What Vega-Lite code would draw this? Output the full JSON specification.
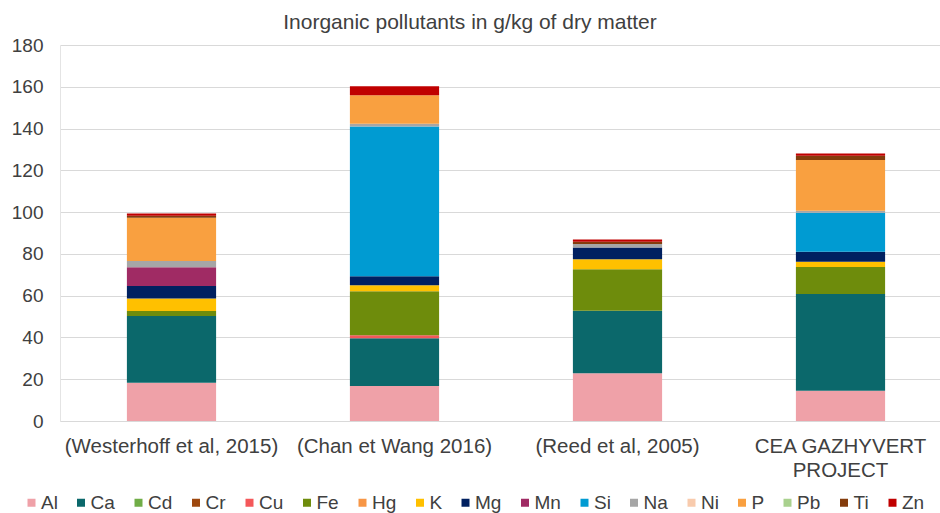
{
  "$schema": "https://vega.github.io/schema/vega-lite/v6.json",
  "width": 880,
  "height": 376,
  "autosize": {"type": "none"},
  "padding": {"left": 60, "top": 45, "right": 0, "bottom": 92},
  "background": "white",
  "config": {"font": "Liberation Sans", "view": {"stroke": null}},
  "title": {"text": "Inorganic pollutants in g/kg of dry matter", "fontSize": 21, "fontWeight": "normal", "color": "#404040", "anchor": "middle", "dx": -30, "offset": 3},
  "data": {"values": [
    {"ref": "(Westerhoff et al, 2015)", "el": "Al", "ord": 0, "v": 18.3},
    {"ref": "(Westerhoff et al, 2015)", "el": "Ca", "ord": 1, "v": 32},
    {"ref": "(Westerhoff et al, 2015)", "el": "Fe", "ord": 5, "v": 2.3},
    {"ref": "(Westerhoff et al, 2015)", "el": "K", "ord": 7, "v": 6},
    {"ref": "(Westerhoff et al, 2015)", "el": "Mg", "ord": 8, "v": 6},
    {"ref": "(Westerhoff et al, 2015)", "el": "Mn", "ord": 9, "v": 9},
    {"ref": "(Westerhoff et al, 2015)", "el": "Na", "ord": 11, "v": 3},
    {"ref": "(Westerhoff et al, 2015)", "el": "P", "ord": 13, "v": 20.7},
    {"ref": "(Westerhoff et al, 2015)", "el": "Ti", "ord": 15, "v": 1},
    {"ref": "(Westerhoff et al, 2015)", "el": "Zn", "ord": 16, "v": 1},
    {"ref": "(Chan et Wang 2016)", "el": "Al", "ord": 0, "v": 16.7},
    {"ref": "(Chan et Wang 2016)", "el": "Ca", "ord": 1, "v": 22.9},
    {"ref": "(Chan et Wang 2016)", "el": "Cu", "ord": 4, "v": 1.5},
    {"ref": "(Chan et Wang 2016)", "el": "Fe", "ord": 5, "v": 21},
    {"ref": "(Chan et Wang 2016)", "el": "K", "ord": 7, "v": 2.9},
    {"ref": "(Chan et Wang 2016)", "el": "Mg", "ord": 8, "v": 4.3},
    {"ref": "(Chan et Wang 2016)", "el": "Si", "ord": 10, "v": 71.7},
    {"ref": "(Chan et Wang 2016)", "el": "Na", "ord": 11, "v": 1.3},
    {"ref": "(Chan et Wang 2016)", "el": "P", "ord": 13, "v": 13.6},
    {"ref": "(Chan et Wang 2016)", "el": "Zn", "ord": 16, "v": 4.3},
    {"ref": "(Reed et al, 2005)", "el": "Al", "ord": 0, "v": 22.8},
    {"ref": "(Reed et al, 2005)", "el": "Ca", "ord": 1, "v": 30},
    {"ref": "(Reed et al, 2005)", "el": "Fe", "ord": 5, "v": 19.8},
    {"ref": "(Reed et al, 2005)", "el": "K", "ord": 7, "v": 4.8},
    {"ref": "(Reed et al, 2005)", "el": "Mg", "ord": 8, "v": 5.7},
    {"ref": "(Reed et al, 2005)", "el": "Na", "ord": 11, "v": 1.6},
    {"ref": "(Reed et al, 2005)", "el": "Ti", "ord": 15, "v": 1.1},
    {"ref": "(Reed et al, 2005)", "el": "Zn", "ord": 16, "v": 1.1},
    {"ref": "CEA GAZHYVERT PROJECT", "el": "Al", "ord": 0, "v": 14.5},
    {"ref": "CEA GAZHYVERT PROJECT", "el": "Ca", "ord": 1, "v": 46.3},
    {"ref": "CEA GAZHYVERT PROJECT", "el": "Fe", "ord": 5, "v": 12.9},
    {"ref": "CEA GAZHYVERT PROJECT", "el": "K", "ord": 7, "v": 2.5},
    {"ref": "CEA GAZHYVERT PROJECT", "el": "Mg", "ord": 8, "v": 4.8},
    {"ref": "CEA GAZHYVERT PROJECT", "el": "Si", "ord": 10, "v": 18.7},
    {"ref": "CEA GAZHYVERT PROJECT", "el": "Na", "ord": 11, "v": 1},
    {"ref": "CEA GAZHYVERT PROJECT", "el": "P", "ord": 13, "v": 24.3},
    {"ref": "CEA GAZHYVERT PROJECT", "el": "Ti", "ord": 15, "v": 2},
    {"ref": "CEA GAZHYVERT PROJECT", "el": "Zn", "ord": 16, "v": 1}
  ]},
  "mark": {"type": "bar"},
  "encoding": {
    "x": {
      "field": "ref", "type": "nominal",
      "sort": ["(Westerhoff et al, 2015)", "(Chan et Wang 2016)", "(Reed et al, 2005)", "CEA GAZHYVERT PROJECT"],
      "scale": {"range": [0, 892], "paddingInner": 0.6, "paddingOuter": 0.3},
      "axis": {"title": null, "labelAngle": 0, "labelFontSize": 20.5, "labelColor": "#404040", "labelLimit": 0, "ticks": false, "domainColor": "#D9D9D9", "labelPadding": 15, "labelLineHeight": 24,
        "labelExpr": "datum.value == 'CEA GAZHYVERT PROJECT' ? ['CEA GAZHYVERT', 'PROJECT'] : datum.value"}
    },
    "y": {
      "field": "v", "type": "quantitative", "stack": "zero",
      "scale": {"domain": [0, 180]},
      "axis": {"title": null, "values": [0, 20, 40, 60, 80, 100, 120, 140, 160, 180], "grid": true, "gridColor": "#D9D9D9", "domainColor": "#E4E4E4", "ticks": false, "labelFontSize": 19, "labelColor": "#404040", "labelPadding": 17}
    },
    "color": {
      "field": "el", "type": "nominal",
      "scale": {
        "domain": ["Al", "Ca", "Cd", "Cr", "Cu", "Fe", "Hg", "K", "Mg", "Mn", "Si", "Na", "Ni", "P", "Pb", "Ti", "Zn"],
        "range": ["#EFA1A8", "#0B686B", "#70AD47", "#9E480E", "#F4585A", "#6E8C0C", "#F79646", "#FFC000", "#002060", "#A02B64", "#009BD2", "#A6A6A6", "#F8CBAD", "#F9A040", "#A9D18E", "#843C0C", "#C00000"]
      },
      "legend": {"title": null, "orient": "none", "legendX": -38, "legendY": 448, "direction": "horizontal", "columns": 17, "symbolType": "square", "symbolSize": 64, "symbolStrokeWidth": 0, "labelFontSize": 19, "labelColor": "#404040", "labelOffset": 0, "columnPadding": 13.5}
    },
    "order": {"field": "ord", "type": "quantitative"}
  }
}
